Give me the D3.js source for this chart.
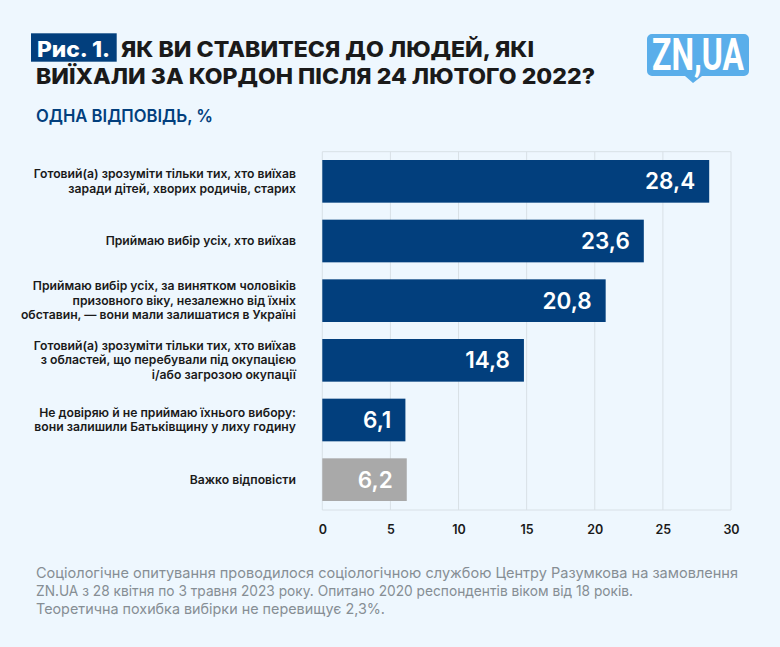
<!DOCTYPE html>
<meta charset="utf-8">
<style>
html, body { margin: 0; background: #eef7fe; }
svg { display: block; }
text { font-family: Inter, sans-serif; }
</style>
<svg width="780" height="647"></svg>
<script src="https://d3js.org/d3.v7.min.js"></script>
<script>

var categories = [
  ["Готовий(а) зрозуміти тільки тих, хто виїхав", "заради дітей, хворих родичів, старих"],
  ["Приймаю вибір усіх, хто виїхав"],
  ["Приймаю вибір усіх, за винятком чоловіків", "призовного віку, незалежно від їхніх", "обставин, — вони мали залишатися в Україні"],
  ["Готовий(а) зрозуміти тільки тих, хто виїхав", "з областей, що перебували під окупацією", "і/або загрозою окупації"],
  ["Не довіряю й не приймаю їхнього вибору:", "вони залишили Батьківщину у лиху годину"],
  ["Важко відповісти"]
];
var values = [28.4, 23.6, 20.8, 14.8, 6.1, 6.2];
var barColors = ["#023f7d", "#023f7d", "#023f7d", "#023f7d", "#023f7d", "#a9a9a9"];
var xTicks = [0, 5, 10, 15, 20, 25, 30];
var footnote = [
  "Соціологічне опитування проводилося соціологічною  службою Центру Разумкова на замовлення",
  "ZN.UA з 28 квітня по 3 травня 2023 року. Опитано 2020 респондентів віком від 18 років.",
  "Теоретична похибка вибірки не перевищує 2,3%."
];

var svg = d3.select("svg");

var x = d3.scaleLinear().domain([0, 30]).range([322.3, 731]);
var y = d3.scaleBand().domain(d3.range(values.length)).range([160, 501]).paddingInner(0.285).paddingOuter(0);

var gridTop = 151.7, gridBottom = 510;

// grid
svg.append("g").selectAll("line")
    .data(xTicks)
  .enter().append("line")
    .attr("x1", d => x(d)).attr("x2", d => x(d))
    .attr("y1", gridTop).attr("y2", gridBottom)
    .attr("stroke", "#d8e0e6").attr("stroke-width", 1);

svg.append("g").selectAll("line")
    .data([gridTop, gridBottom])
  .enter().append("line")
    .attr("x1", x(0)).attr("x2", x(30))
    .attr("y1", d => d).attr("y2", d => d)
    .attr("stroke", "#d8e0e6");

// x axis
var axis = svg.append("g")
    .attr("transform", "translate(0," + gridBottom + ")")
    .call(d3.axisBottom(x).tickValues(xTicks).tickSize(0).tickPadding(15));
axis.select(".domain").remove();
axis.selectAll("text")
    .attr("font-family", "Inter")
    .attr("font-size", 12.5)
    .attr("font-weight", 600)
    .attr("fill", "#1a1a1a");

// bars
svg.append("g").selectAll("rect")
    .data(values)
  .enter().append("rect")
    .attr("x", x(0))
    .attr("y", (d, i) => y(i))
    .attr("width", d => x(d) - x(0))
    .attr("height", y.bandwidth())
    .attr("fill", (d, i) => barColors[i]);

svg.append("g").selectAll("text")
    .data(values)
  .enter().append("text")
    .attr("x", d => x(d) - 14)
    .attr("y", (d, i) => y(i) + y.bandwidth() / 2 + 8)
    .attr("text-anchor", "end")
    .attr("font-size", 22.5)
    .attr("font-weight", 600)
    .attr("fill", "#fff")
    .text(d => String(d).replace(".", ","));

// category labels
categories.forEach(function(lines, i) {
  var cy = y(i) + y.bandwidth() / 2;
  svg.append("text")
      .attr("text-anchor", "end")
      .attr("font-size", 12.2)
      .attr("font-weight", 600)
      .attr("fill", "#1a1a1a")
    .selectAll("tspan")
      .data(lines)
    .enter().append("tspan")
      .attr("x", 296)
      .attr("y", (d, j) => cy + 4 + (j - (lines.length - 1) / 2) * 14.6)
      .text(d => d);
});

// title
svg.append("rect")
    .attr("x", 31).attr("y", 33.3).attr("width", 85.7).attr("height", 28.4)
    .attr("fill", "#023f7d");

function heading(str, xPos, yPos, size, weight, fill, len) {
  svg.append("text")
      .attr("x", xPos).attr("y", yPos)
      .attr("font-size", size)
      .attr("font-weight", weight)
      .attr("fill", fill)
      .attr("textLength", len)
      .attr("lengthAdjust", "spacingAndGlyphs")
      .text(str);
}
heading("Рис. 1.", 37, 56.7, 21.5, 800, "#fff", 73);
heading("ЯК ВИ СТАВИТЕСЯ ДО ЛЮДЕЙ, ЯКІ", 121, 56.7, 21.5, 800, "#1a1a1a", 413);
heading("ВИЇХАЛИ ЗА КОРДОН ПІСЛЯ 24 ЛЮТОГО 2022?", 36, 83.5, 21.5, 800, "#1a1a1a", 559);
heading("ОДНА ВІДПОВІДЬ, %", 36, 121.5, 17.5, 600, "#023f7d", 177);

// logo
svg.append("path")
    .attr("d", "M652,34H744a5,5 0 0 1 5,5V71a5,5 0 0 1 -5,5H702L693,83L685,76H652a5,5 0 0 1 -5,-5V39a5,5 0 0 1 5,-5Z")
    .attr("fill", "#5aaeea");
svg.append("text")
    .attr("x", 652).attr("y", 70)
    .style("font-family", "Roboto")
    .attr("font-size", 43.5)
    .attr("font-weight", 700)
    .attr("fill", "#fff")
    .attr("textLength", 92)
    .attr("lengthAdjust", "spacingAndGlyphs")
    .text("ZN,UA");

// footnote
svg.append("g").selectAll("text")
    .data(footnote)
  .enter().append("text")
    .attr("x", 36)
    .attr("y", (d, i) => 578.3 + i * 17.6)
    .attr("font-size", 14.5)
    .attr("fill", "#868e94")
    .attr("textLength", (d, i) => [702, 597, 349][i])
    .attr("lengthAdjust", "spacingAndGlyphs")
    .text(d => d);

</script>
